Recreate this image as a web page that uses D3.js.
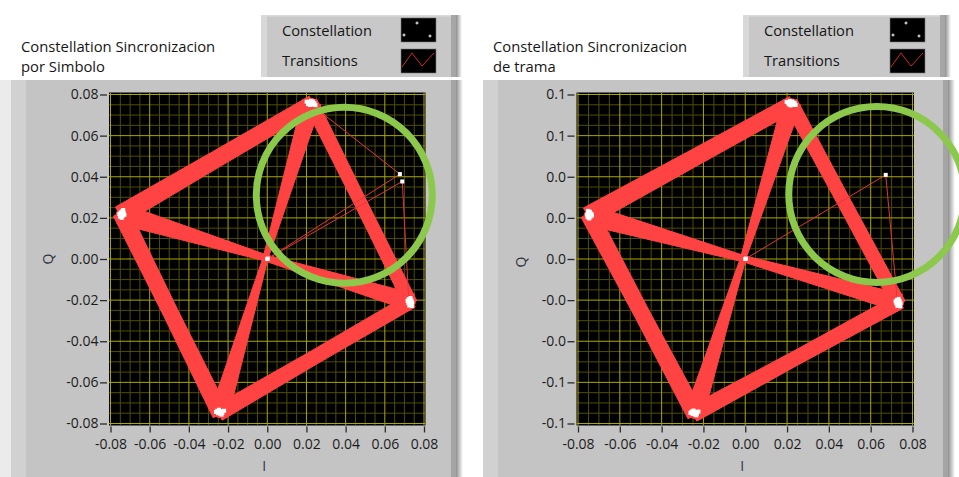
<!DOCTYPE html>
<html>
<head>
<meta charset="utf-8">
<script src="https://cdn.jsdelivr.net/npm/d3@7"></script>
<style>
  html, body { margin: 0; padding: 0; background: #ffffff; }
  svg { display: block; font-family: "Open Sans", "Noto Sans", sans-serif; }
</style>
</head>
<body>
<svg id="chart" width="959" height="477"></svg>
<script>
// ---------- shared axis data ----------
const tickValues = [-0.08, -0.06, -0.04, -0.02, 0, 0.02, 0.04, 0.06, 0.08];
const minorStep = 0.005;
const legendNames = ["Constellation", "Transitions"];

// ---------- graph 1: symbol synchronisation ----------
const titleLeft = ["Constellation Sincronizacion", "por Simbolo"];
const iLabelsLeft = ["-0.08", "-0.06", "-0.04", "-0.02", "0.00", "0.02", "0.04", "0.06", "0.08"];
const qLabelsLeft = ["-0.08", "-0.06", "-0.04", "-0.02", "0.00", "0.02", "0.04", "0.06", "0.08"];
// ideal symbol positions (I, Q)
const symbolsLeft = [[0.0225, 0.0755], [-0.0742, 0.0218], [-0.0242, -0.0745], [0.0728, -0.0208]];
// received constellation samples (I, Q)
const samplesLeft = [
  [0.0212, 0.0762], [0.0222, 0.0769], [0.0233, 0.0766], [0.0241, 0.0757], [0.0230, 0.0751],
  [0.0219, 0.0749], [0.0208, 0.0753], [0.0226, 0.0759], [0.0246, 0.0748], [0.0201, 0.0765],
  [-0.0748, 0.0226], [-0.0740, 0.0233], [-0.0733, 0.0224], [-0.0745, 0.0214], [-0.0752, 0.0206],
  [-0.0738, 0.0209], [-0.0729, 0.0215], [-0.0755, 0.0219], [-0.0743, 0.0200], [-0.0735, 0.0238],
  [-0.0255, -0.0738], [-0.0246, -0.0733], [-0.0236, -0.0740], [-0.0229, -0.0748], [-0.0240, -0.0752],
  [-0.0251, -0.0750], [-0.0262, -0.0744], [-0.0233, -0.0757], [-0.0248, -0.0742], [-0.0220, -0.0738],
  [0.0722, -0.0195], [0.0731, -0.0190], [0.0736, -0.0201], [0.0729, -0.0210], [0.0720, -0.0214],
  [0.0733, -0.0221], [0.0740, -0.0212], [0.0725, -0.0226], [0.0716, -0.0203], [0.0738, -0.0229],
  [0.0000, 0.0000], [0.0003, 0.0002],
  [0.0677, 0.0413], [0.0689, 0.0377]
];
// transitions: from symbol, to symbol, spread at start, middle, end (I/Q units)
const transitionsLeft = [
  [0, 1, 0.0039, 0.0042, 0.0048],
  [1, 2, 0.0043, 0.0039, 0.0043],
  [2, 3, 0.0041, 0.0036, 0.0037],
  [3, 0, 0.0034, 0.0032, 0.0035],
  [0, 2, 0.0048, 0.0013, 0.0048],
  [1, 3, 0.0053, 0.0016, 0.0045]
];
// single stray trajectories
const strayLeft = [
  [[0.0232, 0.0745], [0.0677, 0.0413], [0.0000, 0.0000]],
  [[0.0000, 0.0000], [0.0689, 0.0377], [0.0722, -0.0195]]
];
const markLeft = [0.0393, 0.0310];

// ---------- graph 2: frame synchronisation ----------
const titleRight = ["Constellation Sincronizacion", "de trama"];
const iLabelsRight = ["-0.08", "-0.06", "-0.04", "-0.02", "0.00", "0.02", "0.04", "0.06", "0.08"];
const qLabelsRight = ["-0.1", "-0.1", "-0.0", "-0.0", "0.0", "0.0", "0.0", "0.1", "0.1"];
const symbolsRight = [[0.0221, 0.0752], [-0.0744, 0.0213], [-0.0242, -0.0749], [0.0731, -0.0211]];
const samplesRight = [
  [0.0205, 0.0760], [0.0214, 0.0768], [0.0226, 0.0766], [0.0236, 0.0759], [0.0229, 0.0750],
  [0.0217, 0.0747], [0.0208, 0.0752], [0.0222, 0.0757], [0.0241, 0.0749], [0.0198, 0.0764],
  [-0.0750, 0.0222], [-0.0743, 0.0230], [-0.0736, 0.0220], [-0.0747, 0.0211], [-0.0754, 0.0203],
  [-0.0740, 0.0206], [-0.0733, 0.0212], [-0.0757, 0.0215], [-0.0746, 0.0197], [-0.0752, 0.0234],
  [-0.0256, -0.0742], [-0.0247, -0.0737], [-0.0238, -0.0744], [-0.0231, -0.0752], [-0.0241, -0.0756],
  [-0.0252, -0.0753], [-0.0262, -0.0748], [-0.0234, -0.0760], [-0.0249, -0.0746], [-0.0224, -0.0742],
  [0.0725, -0.0199], [0.0734, -0.0194], [0.0739, -0.0205], [0.0731, -0.0213], [0.0723, -0.0217],
  [0.0736, -0.0224], [0.0743, -0.0214], [0.0728, -0.0228], [0.0719, -0.0206], [0.0741, -0.0230],
  [0.0000, 0.0000], [0.0003, 0.0002],
  [0.0672, 0.0409]
];
const transitionsRight = [
  [0, 1, 0.0037, 0.0040, 0.0045],
  [1, 2, 0.0041, 0.0037, 0.0041],
  [2, 3, 0.0039, 0.0034, 0.0036],
  [3, 0, 0.0033, 0.0032, 0.0034],
  [0, 2, 0.0045, 0.0013, 0.0045],
  [1, 3, 0.0049, 0.0015, 0.0043]
];
const strayRight = [
  [[0.0000, 0.0000], [0.0672, 0.0409], [0.0727, -0.0198]]
];
const markRight = [0.0629, 0.0314];

// ---------- drawing ----------
const svg = d3.select("#chart");
const defs = svg.append("defs");
const shade = defs.append("linearGradient").attr("id", "edgeShade")
  .attr("x1", 0).attr("x2", 1).attr("y1", 0).attr("y2", 0);
shade.append("stop").attr("offset", 0).attr("stop-color", "#8e8e8e");
shade.append("stop").attr("offset", 1).attr("stop-color", "#ffffff");

const RED = "#ff4343";
const GREEN = "#8cc84b";
const INK = "#161616";

function bandPolygon(a, b, sA, sM, sB, xs, ys) {
  const ax = xs(a[0]), ay = ys(a[1]), bx = xs(b[0]), by = ys(b[1]);
  const k = (xs(0.01) - xs(0)) / 0.01;
  const dx = bx - ax, dy = by - ay, len = Math.hypot(dx, dy);
  const ux = dx / len, uy = dy / len, nx = -uy, ny = ux;
  const hA = sA * k, hM = sM * k, hB = sB * k;
  const mx = (ax + bx) / 2, my = (ay + by) / 2;
  const e = 2;
  return [
    [ax - ux * e + nx * hA, ay - uy * e + ny * hA],
    [mx + nx * hM, my + ny * hM],
    [bx + ux * e + nx * hB, by + uy * e + ny * hB],
    [bx + ux * e - nx * hB, by + uy * e - ny * hB],
    [mx - nx * hM, my - ny * hM],
    [ax - ux * e - nx * hA, ay - uy * e - ny * hA]
  ];
}

function drawGraph(cfg) {
  const g = svg.append("g");
  const x = d3.scaleLinear().domain([-0.08, 0.08]).range(cfg.xRange);
  const y = d3.scaleLinear().domain([-0.08, 0.08]).range(cfg.yRange);
  const px0 = cfg.xRange[0] - 1.5, px1 = cfg.xRange[1] + 1.5;
  const py0 = cfg.yRange[1] - 2, py1 = cfg.yRange[0] + 2;

  // graph panel frame
  if (cfg.outerStrip) {
    g.append("rect").attr("x", 0).attr("y", 80).attr("width", cfg.panel[0]).attr("height", 397).attr("fill", "#ebebeb");
  }
  g.append("rect").attr("x", cfg.panel[0]).attr("y", 80).attr("width", cfg.panel[1] - cfg.panel[0]).attr("height", 397).attr("fill", "#c4c4c4");
  g.append("rect").attr("x", cfg.panel[0]).attr("y", 80).attr("width", 15).attr("height", 397).attr("fill", "#d1d1d1");
  g.append("rect").attr("x", cfg.panel[1] - 5).attr("y", 80).attr("width", 5).attr("height", 397).attr("fill", "#a4a4a4");
  g.append("rect").attr("x", cfg.panel[1]).attr("y", 80).attr("width", 7).attr("height", 397).attr("fill", "url(#edgeShade)");

  // legend box
  const lx0 = cfg.legend[0], lx1 = cfg.legend[1];
  g.append("rect").attr("x", lx0).attr("y", 15).attr("width", lx1 - lx0).attr("height", 62).attr("fill", "#c8c8c8");
  g.append("rect").attr("x", lx0).attr("y", 15).attr("width", 6).attr("height", 62).attr("fill", "#d8d8d8");
  g.append("rect").attr("x", lx0).attr("y", 15).attr("width", lx1 - lx0).attr("height", 1.5).attr("fill", "#dcdcdc");
  g.append("rect").attr("x", lx1 - 5).attr("y", 15).attr("width", 5).attr("height", 62).attr("fill", "#a6a6a6");
  g.append("rect").attr("x", lx1).attr("y", 15).attr("width", 6).attr("height", 62).attr("fill", "url(#edgeShade)");

  // title
  g.append("g").selectAll("text").data(cfg.title).join("text")
    .attr("x", cfg.titleX).attr("y", (d, i) => 51.5 + i * 20.5)
    .attr("font-size", 14.8).attr("fill", INK).text(d => d);

  // legend entries
  g.append("g").selectAll("text").data(legendNames).join("text")
    .attr("x", lx0 + 21).attr("y", (d, i) => 35.5 + i * 30.5)
    .attr("font-size", 14.7).attr("fill", INK).text(d => d);
  const sw = lx1 - 55;
  g.append("rect").attr("x", sw).attr("y", 18).attr("width", 35).attr("height", 24).attr("fill", "#000").attr("stroke", "#7a7a7a").attr("stroke-width", 0.6);
  g.append("rect").attr("x", sw).attr("y", 49).attr("width", 35).attr("height", 24).attr("fill", "#000").attr("stroke", "#7a7a7a").attr("stroke-width", 0.6);
  [[16, 5], [3, 17], [29, 18]].forEach(p => {
    g.append("path").attr("d", `M${sw + p[0] - 1.5},${18 + p[1]}h3M${sw + p[0]},${18 + p[1] - 1.5}v3`)
      .attr("stroke", "#fff").attr("stroke-width", 1);
  });
  g.append("path")
    .attr("d", d3.line()([[sw + 1, 67], [sw + 11, 53], [sw + 21, 66], [sw + 33, 53]]))
    .attr("fill", "none").attr("stroke", "#d42424").attr("stroke-width", 1);

  // plot area
  g.append("rect").attr("x", px0).attr("y", py0).attr("width", px1 - px0).attr("height", py1 - py0).attr("fill", "#000");
  const clipId = "clip" + cfg.id;
  defs.append("clipPath").attr("id", clipId).append("rect")
    .attr("x", px0).attr("y", py0).attr("width", px1 - px0).attr("height", py1 - py0);
  const plot = g.append("g").attr("clip-path", `url(#${clipId})`);

  const minorVals = d3.range(-0.08, 0.0801, minorStep).filter(v => Math.abs(Math.round(v / 0.02) * 0.02 - v) > 1e-6);
  plot.append("g").selectAll("line").data(minorVals).join("line")
    .attr("x1", d => x(d)).attr("x2", d => x(d)).attr("y1", py0).attr("y2", py1)
    .attr("stroke", "#4e4e00").attr("stroke-width", 1);
  plot.append("g").selectAll("line").data(minorVals).join("line")
    .attr("y1", d => y(d)).attr("y2", d => y(d)).attr("x1", px0).attr("x2", px1)
    .attr("stroke", "#4e4e00").attr("stroke-width", 1);
  plot.append("g").selectAll("line").data(tickValues).join("line")
    .attr("x1", d => x(d)).attr("x2", d => x(d)).attr("y1", py0).attr("y2", py1)
    .attr("stroke", "#a8a800").attr("stroke-width", 1);
  plot.append("g").selectAll("line").data(tickValues).join("line")
    .attr("y1", d => y(d)).attr("y2", d => y(d)).attr("x1", px0).attr("x2", px1)
    .attr("stroke", "#a8a800").attr("stroke-width", 1);

  // transition bands
  const poly = d3.line().curve(d3.curveLinearClosed);
  plot.append("g").selectAll("path").data(cfg.transitions).join("path")
    .attr("d", t => poly(bandPolygon(cfg.symbols[t[0]], cfg.symbols[t[1]], t[2], t[3], t[4], x, y)))
    .attr("fill", RED).attr("stroke", RED).attr("stroke-width", 1).attr("stroke-linejoin", "round");
  plot.append("g").selectAll("circle").data(cfg.symbols).join("circle")
    .attr("cx", d => x(d[0])).attr("cy", d => y(d[1])).attr("r", 6).attr("fill", RED);

  // stray trajectories
  plot.append("g").selectAll("path").data(cfg.stray).join("path")
    .attr("d", d => d3.line().x(p => x(p[0])).y(p => y(p[1]))(d))
    .attr("fill", "none").attr("stroke", "#e23636").attr("stroke-width", 1);

  // constellation samples
  plot.append("g").selectAll("rect").data(cfg.samples).join("rect")
    .attr("x", d => x(d[0]) - 2).attr("y", d => y(d[1]) - 2)
    .attr("width", 4).attr("height", 4).attr("fill", "#fff");

  // axes
  const yAxis = d3.axisLeft(y).tickValues(tickValues)
    .tickFormat((d, i) => cfg.qLabels[i]).tickSize(7).tickPadding(1.5);
  const ya = g.append("g").attr("transform", `translate(${px0 - 2},0)`).call(yAxis);
  const xAxis = d3.axisBottom(x).tickValues(tickValues)
    .tickFormat((d, i) => cfg.iLabels[i]).tickSize(6).tickPadding(7);
  const xa = g.append("g").attr("transform", `translate(0,${py1 + 1})`).call(xAxis);
  [ya, xa].forEach(a => {
    a.select(".domain").remove();
    a.selectAll(".tick line").attr("stroke", "#2a2a2a").attr("stroke-width", 1.3);
    a.selectAll(".tick text").attr("font-size", 14).attr("fill", "#1c1c1c")
      .attr("font-family", "'Open Sans', 'Noto Sans', sans-serif");
  });

  // axis names
  g.append("text").attr("x", (px0 + px1) / 2 - 3).attr("y", 471)
    .attr("text-anchor", "middle").attr("font-size", 14).attr("fill", "#3a2f4a").text("I");
  g.append("text").attr("transform", `translate(${cfg.qX},${cfg.qY}) rotate(-90)`)
    .attr("text-anchor", "middle").attr("dy", "0.35em").attr("font-size", 14).attr("fill", "#2f3340").text("Q");

  // highlight ring
  g.append("circle").attr("cx", x(cfg.mark[0])).attr("cy", y(cfg.mark[1])).attr("r", 88)
    .attr("fill", "none").attr("stroke", GREEN).attr("stroke-width", 7);
}

drawGraph({
  id: "L", outerStrip: true, panel: [11, 456], legend: [261, 456], titleX: 21,
  xRange: [110.5, 424], yRange: [423.5, 94.5], qX: 48, qY: 259,
  title: titleLeft, iLabels: iLabelsLeft, qLabels: qLabelsLeft,
  symbols: symbolsLeft, samples: samplesLeft, transitions: transitionsLeft, stray: strayLeft, mark: markLeft
});
drawGraph({
  id: "R", outerStrip: false, panel: [483, 948], legend: [743, 945], titleX: 493,
  xRange: [578, 912.5], yRange: [423.5, 94.5], qX: 521, qY: 262,
  title: titleRight, iLabels: iLabelsRight, qLabels: qLabelsRight,
  symbols: symbolsRight, samples: samplesRight, transitions: transitionsRight, stray: strayRight, mark: markRight
});
</script>
</body>
</html>
